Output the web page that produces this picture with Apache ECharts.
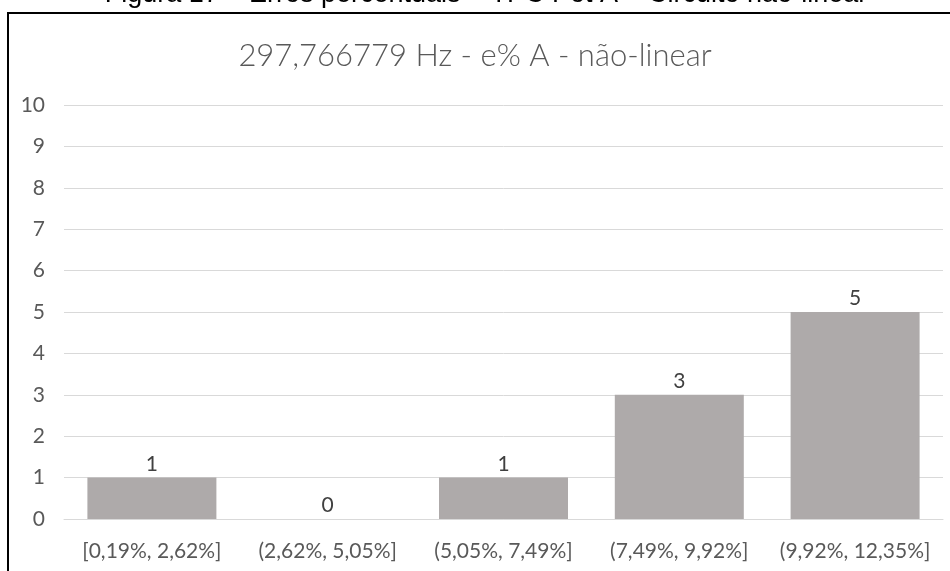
<!DOCTYPE html>
<html>
<head>
<meta charset="utf-8">
<script src="https://cdn.jsdelivr.net/npm/echarts@6/dist/echarts.min.js"></script>
<style>html,body{margin:0;padding:0;background:#fff;}#c{width:950px;height:571px;}</style>
</head>
<body>
<div id="c"></div>
<script>
var categories = ['[0,19%, 2,62%]', '(2,62%, 5,05%]', '(5,05%, 7,49%]', '(7,49%, 9,92%]', '(9,92%, 12,35%]'];
var counts = [1, 0, 1, 3, 5];
var yTicks = [0, 1, 2, 3, 4, 5, 6, 7, 8, 9, 10];
var chartTitle = '297,766779 Hz - e% A - não-linear';
var caption = 'Figura 17 – Erros percentuais – TPC Pot A – Circuito não-linear';

var chart = echarts.init(document.getElementById('c'), null, {renderer: 'canvas'});
chart.setOption({
  animation: false,
  backgroundColor: '#fff',
  title: {
    text: chartTitle,
    left: 'center',
    top: 35,
    textStyle: {fontFamily: 'Lato', fontWeight: 300, fontSize: 31, color: '#595959'}
  },
  graphic: [
    {type: 'rect', shape: {x: 8, y: 13, width: 1000, height: 700}, style: {fill: 'none', stroke: '#000', lineWidth: 2}, z: 10},
    {type: 'text', x: 486, y: -5, style: {text: caption, font: '27px "Liberation Sans", Arial', fill: '#000', textAlign: 'center', textVerticalAlign: 'middle'}, z: 10}
  ],
  grid: {left: 64, right: 7, top: 105, bottom: 52, containLabel: false},
  xAxis: {
    type: 'category',
    data: categories,
    axisLine: {show: true, lineStyle: {color: '#d9d9d9', width: 1}},
    axisTick: {show: false},
    axisLabel: {color: '#595959', fontFamily: 'Lato', fontSize: 21, margin: 22, interval: 0, hideOverlap: false}
  },
  yAxis: {
    type: 'value',
    min: yTicks[0],
    max: yTicks[yTicks.length - 1],
    interval: 1,
    axisLine: {show: false},
    axisTick: {show: false},
    splitLine: {lineStyle: {color: '#d9d9d9', width: 1}},
    axisLabel: {color: '#595959', fontFamily: 'Lato', fontSize: 21, margin: 19}
  },
  series: [{
    type: 'bar',
    data: counts,
    barWidth: 129,
    itemStyle: {color: '#aeaaaa'},
    label: {show: true, position: 'top', distance: 3, color: '#404040', fontFamily: 'Lato', fontSize: 21}
  }]
});
</script>
</body>
</html>
